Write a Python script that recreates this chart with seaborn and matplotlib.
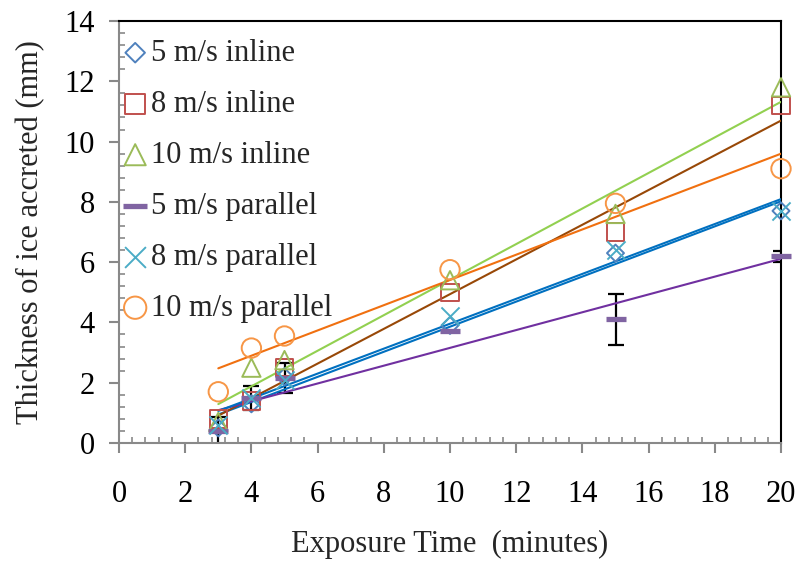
import numpy as np
import pandas as pd
import matplotlib
matplotlib.use("Agg")
import matplotlib.pyplot as plt
from matplotlib.ticker import MultipleLocator
import seaborn as sns

# ---- data ----
time_min = [3, 4, 5, 10, 15, 20]
inline_5 = [0.5, 1.3, 2.2, 3.9, 6.3, 7.7]
inline_8 = [0.8, 1.4, 2.5, 5.0, 7.0, 11.2]
inline_10 = [0.7, 2.5, 2.75, 5.4, 7.6, 11.8]
parallel_5 = [0.4, 1.5, 2.15, 3.7, 4.1, 6.2]
parallel_5_err = [0.45, 0.4, 0.5, np.nan, 0.85, 0.18]
parallel_8 = [0.6, 1.5, 2.1, 4.2, 6.4, 7.7]
parallel_10 = [1.7, 3.15, 3.55, 5.75, 7.95, 9.1]

labels = ["5 m/s inline", "8 m/s inline", "10 m/s inline",
          "5 m/s parallel", "8 m/s parallel", "10 m/s parallel"]
series = [inline_5, inline_8, inline_10, parallel_5, parallel_8, parallel_10]
markers = ["D", "s", "^", "_", "x", "o"]
sizes = [75, 160, 175, 220, 170, 195]
marker_colors = ["#4F81BD", "#C0504D", "#9BBB59", "#8064A2", "#4BACC6", "#F79646"]
trend_colors = ["#0070C0", "#984807", "#92D050", "#7030A0", "#0070C0", "#F07010"]

sns.set_style("white")
plt.rcParams['font.family'] = ['Liberation Serif', 'DejaVu Serif']
FS = 22
plt.rcParams['font.size'] = FS

fig = plt.figure(figsize=(8.01, 5.67), dpi=100)
ax = fig.add_axes([119/801, 1-443/567, (781-119)/801, (443-21)/567])

# error bars (5 m/s parallel)
ax.errorbar(time_min, parallel_5, yerr=parallel_5_err, fmt="none",
            ecolor="black", elinewidth=1.6, capsize=6, capthick=1.6, zorder=2)

# trend lines
for ys, tc in zip(series, trend_colors):
    df = pd.DataFrame({"t": time_min, "v": ys})
    sns.regplot(data=df, x="t", y="v", scatter=False, ci=None, truncate=True,
                line_kws={"color": tc, "lw": 1.5, "zorder": 3}, ax=ax)

# markers
for ys, lab, mk, sz, mc in zip(series, labels, markers, sizes, marker_colors):
    df = pd.DataFrame({"t": time_min, "v": ys})
    if mk in ("x", "_"):
        lw = 3.8 if mk == "_" else 1.4
        sns.scatterplot(data=df, x="t", y="v", marker=mk, s=sz, color=mc,
                        linewidth=lw, label=lab, ax=ax, zorder=4, clip_on=False)
    else:
        sns.scatterplot(data=df, x="t", y="v", marker=mk, s=sz, facecolor="none",
                        edgecolor=mc, linewidth=1.4, label=lab, ax=ax, zorder=4,
                        clip_on=False)

ax.set_xlim(0, 20)
ax.set_ylim(0, 14)
ax.xaxis.set_major_locator(MultipleLocator(2))
ax.yaxis.set_major_locator(MultipleLocator(2))
ax.xaxis.set_minor_locator(MultipleLocator(0.4))
ax.yaxis.set_minor_locator(MultipleLocator(0.4))

grey = "#898989"
for side in ("left", "bottom"):
    ax.spines[side].set_color(grey)
    ax.spines[side].set_linewidth(1.5)
for side in ("top", "right"):
    ax.spines[side].set_color("black")
    ax.spines[side].set_linewidth(1.5)
    ax.spines[side].set_visible(True)

ax.tick_params(axis="both", which="major", direction="out", length=7.5, width=1.5,
               color=grey, labelsize=FS, labelcolor="black")
ax.tick_params(axis="both", which="minor", direction="in", length=4.5, width=1.2,
               color=grey)
ax.tick_params(axis="x", which="both", bottom=True, top=False)
ax.tick_params(axis="y", which="both", left=True, right=False)
ax.tick_params(axis="x", which="major", pad=19)
ax.tick_params(axis="y", which="major", pad=10)

ax.set_xlabel("Exposure Time  (minutes)", fontsize=FS)
ax.set_ylabel("Thickness of ice accreted (mm)", fontsize=FS)
ax.xaxis.set_label_coords(0.5, -0.205)
ax.yaxis.set_label_coords(-0.112, 0.5)

leg = ax.legend(loc="upper left", bbox_to_anchor=(0.0106, 0.958), frameon=False,
                fontsize=FS, borderpad=0, borderaxespad=0, handlelength=0.6,
                handletextpad=0.22, labelspacing=0.72, markerscale=1.15)

fig.savefig("out.png", dpi=100)
